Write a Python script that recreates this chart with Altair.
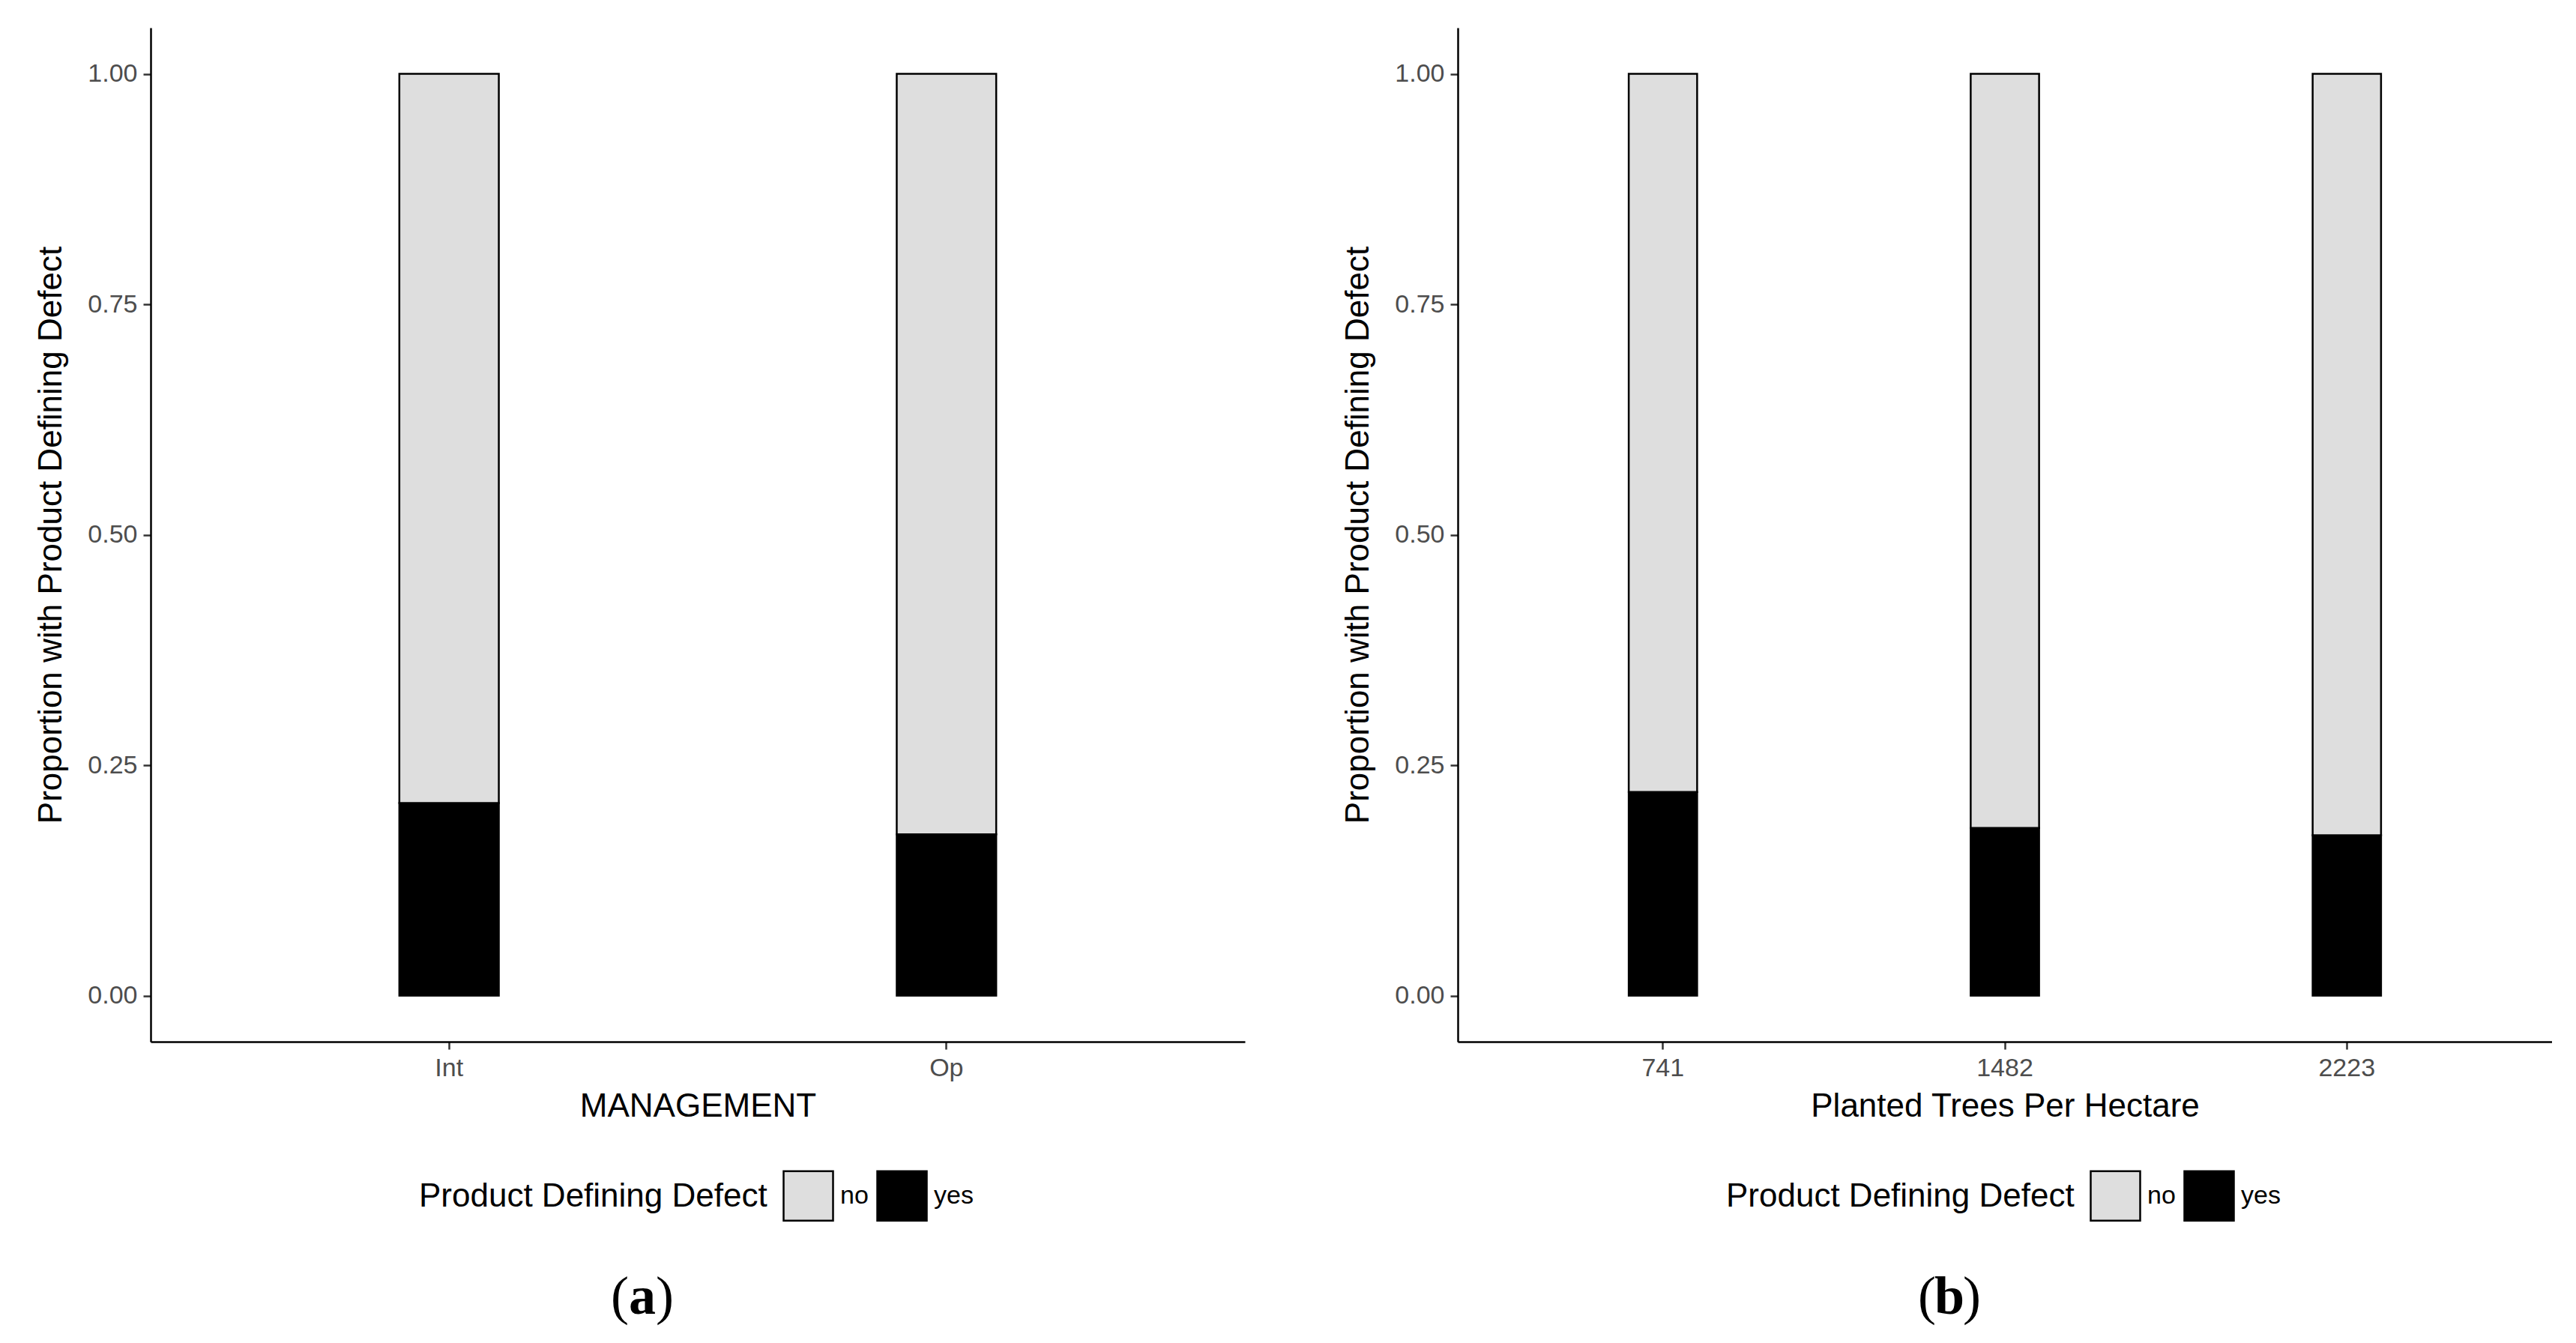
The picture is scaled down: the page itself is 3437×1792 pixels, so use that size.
import altair as alt
import pandas as pd

# ---- data ----
management = ["Int", "Op"]
management_yes = [0.209, 0.175]

density = ["741", "1482", "2223"]
density_yes = [0.221, 0.182, 0.174]

defect_levels = ["no", "yes"]
defect_colors = ["#DEDEDE", "#000000"]

y_ticks = [0.0, 0.25, 0.5, 0.75, 1.0]

caption_letters = ["a", "b"]
x_titles = ["MANAGEMENT", "Planted Trees Per Hectare"]
y_title = "Proportion with Product Defining Defect"
legend_title = "Product Defining Defect"


def long_form(cats, yes_vals):
    rows = []
    for c, v in zip(cats, yes_vals):
        rows.append({"cat": c, "defect": "yes", "value": v, "ord": 0})
        rows.append({"cat": c, "defect": "no", "value": 1 - v, "ord": 1})
    return pd.DataFrame(rows)


SANS = "Liberation Sans"
SERIF = "Liberation Serif"
W, H = 1460, 1353
CAP_X, CAP_Y, CAP_SIZE = 656, 1716, 72


def caption_layers(letter):
    cdf = pd.DataFrame({"open": ["("], "letter": [letter], "close": [")"]})
    base = alt.Chart(cdf)
    common = dict(font=SERIF, fontSize=CAP_SIZE, baseline="alphabetic", color="#000000")
    l_open = base.mark_text(align="right", dx=-18, fontWeight="normal", **common).encode(
        text="open:N", x=alt.value(CAP_X), y=alt.value(CAP_Y))
    l_letter = base.mark_text(align="center", fontWeight="bold", **common).encode(
        text="letter:N", x=alt.value(CAP_X), y=alt.value(CAP_Y))
    l_close = base.mark_text(align="left", dx=18, fontWeight="normal", **common).encode(
        text="close:N", x=alt.value(CAP_X), y=alt.value(CAP_Y))
    return [l_open, l_letter, l_close]


def panel(cats, yes_vals, xtitle, letter):
    df = long_form(cats, yes_vals)
    bars = alt.Chart(df).mark_bar(stroke="black", strokeWidth=2.5).encode(
        x=alt.X(
            "cat:N",
            sort=cats,
            scale=alt.Scale(paddingInner=0.8, paddingOuter=0.5),
            axis=alt.Axis(
                title=xtitle,
                labelAngle=0,
                bandPosition=0.5,
                labelFont=SANS,
                labelFontSize=34,
                labelColor="#4D4D4D",
                labelPadding=8,
                tickSize=10,
                tickWidth=2.5,
                tickColor="#333333",
                domainColor="#000000",
                domainWidth=2.5,
                titleFont=SANS,
                titleFontSize=44,
                titleFontWeight="normal",
                titleColor="#000000",
                titlePadding=12,
                grid=False,
            ),
        ),
        y=alt.Y(
            "value:Q",
            stack="zero",
            scale=alt.Scale(domain=[-0.05, 1.05], nice=False, zero=False),
            axis=alt.Axis(
                title=y_title,
                values=y_ticks,
                format=".2f",
                labelFont=SANS,
                labelFontSize=34,
                labelColor="#4D4D4D",
                labelPadding=8,
                tickSize=10,
                tickWidth=2.5,
                tickColor="#333333",
                domainColor="#000000",
                domainWidth=2.5,
                titleFont=SANS,
                titleFontSize=44,
                titleFontWeight="normal",
                titleColor="#000000",
                titlePadding=26,
                grid=False,
            ),
        ),
        color=alt.Color(
            "defect:N",
            scale=alt.Scale(domain=defect_levels, range=defect_colors),
            legend=alt.Legend(
                title=legend_title,
                orient="none",
                legendX=358,
                legendY=1524,
                direction="horizontal",
                titleOrient="left",
                titleFont=SANS,
                titleFontSize=44,
                titleFontWeight="normal",
                titleColor="#000000",
                titleLimit=2000,
                titlePadding=20,
                titleBaseline="middle",
                labelFont=SANS,
                labelFontSize=34,
                labelColor="#000000",
                labelOffset=8,
                columnPadding=6,
                symbolType="square",
                symbolSize=4356,
                symbolStrokeColor="#000000",
                symbolStrokeWidth=2.5,
                symbolOpacity=1,
                padding=0,
            ),
        ),
        order=alt.Order("ord:Q"),
    )
    return alt.layer(bars, *caption_layers(letter)).properties(
        width=W, height=H, view=alt.ViewBackground(stroke="transparent", strokeWidth=0)
    )


pa = panel(management, management_yes, x_titles[0], caption_letters[0])
pb = panel(density, density_yes, x_titles[1], caption_letters[1])

chart = (
    alt.hconcat(pa, pb, spacing=129)
    .resolve_scale(color="independent", x="independent", y="independent")
    .resolve_legend(color="independent")
    .properties(padding={"left": 38, "top": 29, "right": 0, "bottom": 16})
    .configure_view(stroke="transparent", strokeWidth=0)
    .configure(background="white")
)

chart.save("out.html", embed_options={"renderer": "svg", "actions": False})
